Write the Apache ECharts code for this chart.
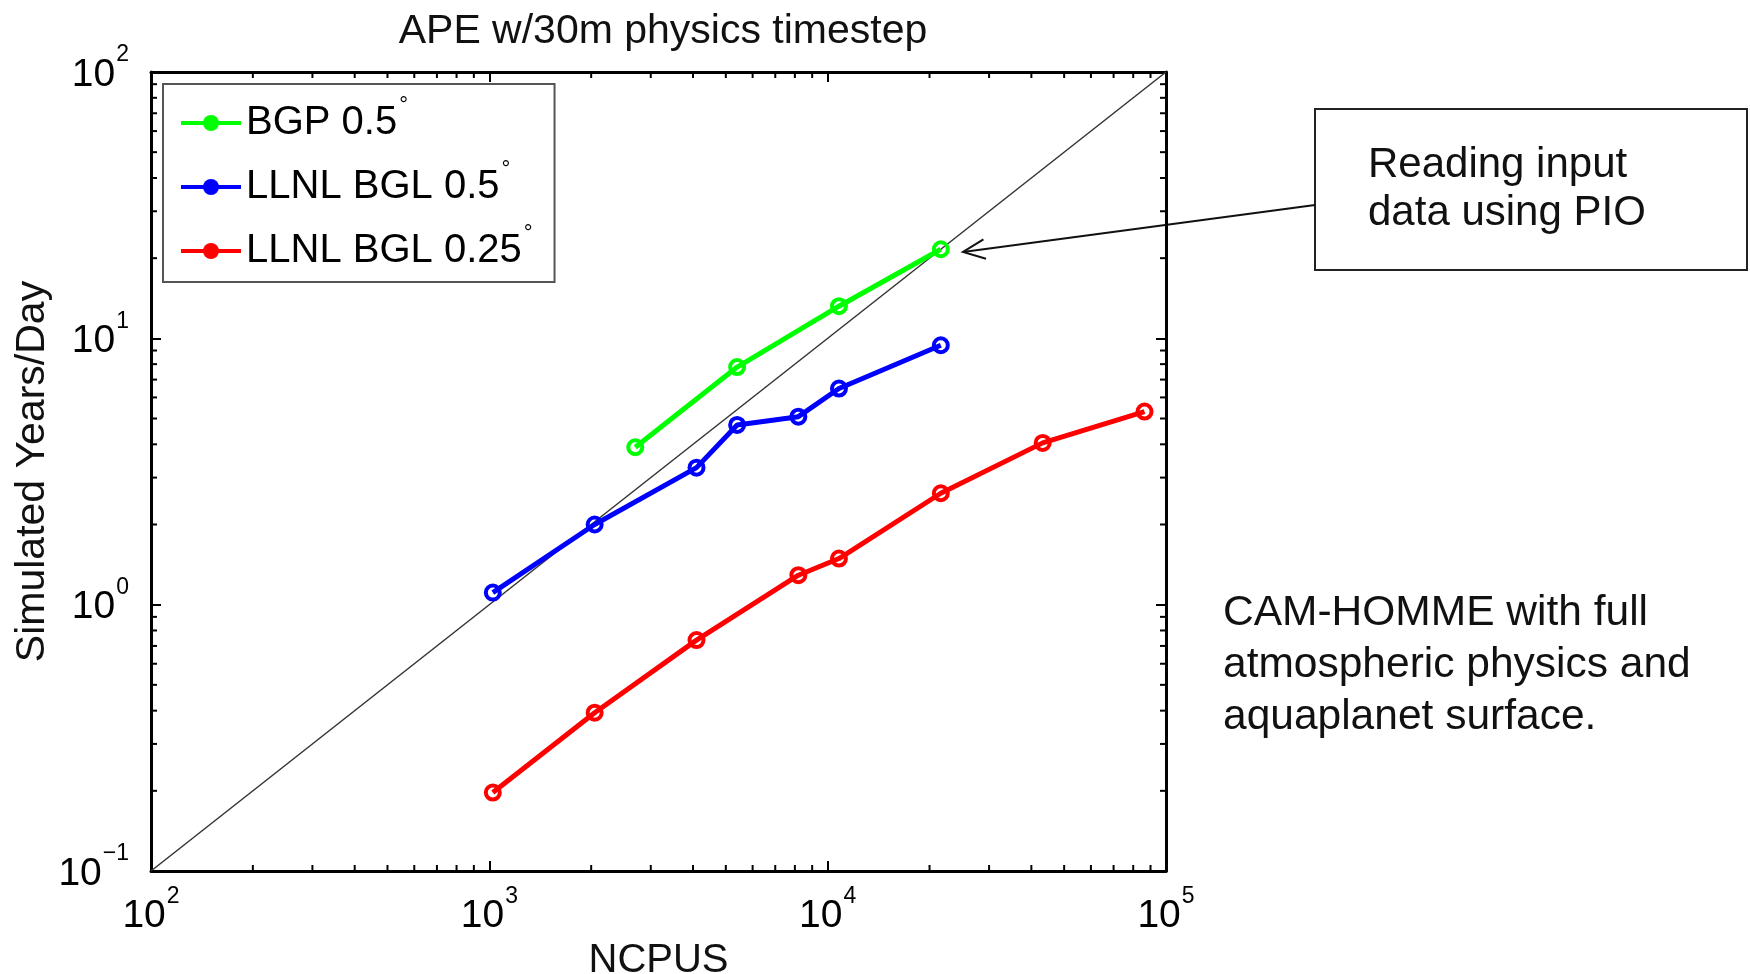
<!DOCTYPE html>
<html>
<head>
<meta charset="utf-8">
<title>APE w/30m physics timestep</title>
<script src="https://cdn.jsdelivr.net/npm/echarts@6/dist/echarts.min.js"></script>
<style>
  html, body { margin: 0; padding: 0; background: #fff; }
  #chart { width: 1750px; height: 974px; }
</style>
</head>
<body>
<div id="chart"></div>
<script>
// data
const bgpNcpus = [2700, 5400, 10800, 21600];
const bgpYears = [3.9, 7.8, 13.2, 21.6];

const bgl05Ncpus = [1024, 2048, 4096, 5400, 8192, 10800, 21600];
const bgl05Years = [1.11, 2.0, 3.27, 4.73, 5.08, 6.48, 9.42];

const bgl025Ncpus = [1024, 2048, 4096, 8192, 10800, 21600, 43200, 86400];
const bgl025Years = [0.197, 0.393, 0.736, 1.29, 1.49, 2.62, 4.05, 5.31];

// ideal scaling reference line
const idealNcpus = [100, 100000];
const idealYears = [0.1, 100];

// axis ranges and minor tick positions (2..9 within each decade)
const xRange = [100, 100000];
const yRange = [0.1, 100];
const minorMultipliers = [2, 3, 4, 5, 6, 7, 8, 9];
const xDecades = [100, 1000, 10000];
const yDecades = [0.1, 1, 10];

const FONT = '"Liberation Sans", Arial, Helvetica, sans-serif';

const pairs = (xs, ys) => xs.map((x, i) => [x, ys[i]]);

const minorValues = (decades) => {
    const out = [];
    decades.forEach(d => minorMultipliers.forEach(m => out.push(d * m)));
    return out;
};

const sup = (v) => {
    const e = Math.round(Math.log10(v));
    return '{b|10}{s|' + (e < 0 ? '\u2212' + (-e) : e) + '}';
};

const labelRich = {
    b: { fontSize: 39, lineHeight: 42, color: '#000', fontFamily: FONT, padding: [6, 0, 0, 0] },
    s: { fontSize: 23, color: '#000', fontFamily: FONT, padding: [0, 0, 34, 1] }
};

const axisCommon = {
    type: 'log',
    logBase: 10,
    axisLine: { show: true, onZero: false, lineStyle: { color: '#000', width: 3 } },
    axisTick: { show: true, inside: true, length: 10, lineStyle: { color: '#000', width: 2 } },
    minorTick: { show: false },
    splitLine: { show: false }
};

const lineSeries = (name, data, color) => ({
    name: name,
    type: 'line',
    data: data,
    symbol: 'circle',
    symbolSize: 14,
    lineStyle: { color: color, width: 5 },
    itemStyle: { color: 'rgba(255,255,255,0)', borderColor: color, borderWidth: 4 },
    z: 3
});

const chart = echarts.init(document.getElementById('chart'));

const option = {
    animation: false,
    textStyle: { fontFamily: FONT },
    title: {
        text: 'APE w/30m physics timestep',
        left: 658,
        top: 6,
        textAlign: 'center',
        textStyle: { fontSize: 41, fontWeight: 'normal', color: '#111', fontFamily: FONT }
    },
    grid: { left: 151, right: 584, top: 72, bottom: 103, outerBoundsMode: 'none' },
    legend: {
        orient: 'vertical',
        left: 163,
        top: 84,
        padding: [11, 22, 11, 16],
        itemGap: 16,
        itemWidth: 60,
        itemHeight: 20,
        backgroundColor: '#fff',
        borderColor: '#555',
        borderWidth: 2,
        lineStyle: { width: 4 },
        data: [
            { name: 'BGP 0.5°', itemStyle: { color: '#00ff00', borderWidth: 0 } },
            { name: 'LLNL BGL 0.5°', itemStyle: { color: '#0000ff', borderWidth: 0 } },
            { name: 'LLNL BGL 0.25°', itemStyle: { color: '#ff0000', borderWidth: 0 } }
        ],
        formatter: (n) => '{t|' + n.slice(0, -1) + '}{d|°}',
        textStyle: {
            rich: {
                t: { fontSize: 40, lineHeight: 46, color: '#000', fontFamily: FONT },
                d: { fontSize: 22, color: '#000', fontFamily: FONT, padding: [0, 0, 34, 2] }
            }
        }
    },
    xAxis: [
        Object.assign({}, axisCommon, {
            position: 'bottom',
            min: xRange[0], max: xRange[1],
            name: 'NCPUS',
            nameLocation: 'middle',
            nameGap: 70,
            nameTextStyle: { fontSize: 40, color: '#111', fontFamily: FONT },
            axisLabel: { margin: 14, formatter: sup, rich: labelRich }
        }),
        Object.assign({}, axisCommon, {
            position: 'top',
            min: xRange[0], max: xRange[1],
            axisLabel: { show: false }
        })
    ],
    yAxis: [
        Object.assign({}, axisCommon, {
            position: 'left',
            min: yRange[0], max: yRange[1],
            name: 'Simulated Years/Day',
            nameLocation: 'middle',
            nameMoveOverlap: false,
            nameGap: 98,
            nameTextStyle: { fontSize: 41, color: '#111', fontFamily: FONT },
            axisLabel: { margin: 22, formatter: sup, rich: labelRich }
        }),
        Object.assign({}, axisCommon, {
            position: 'right',
            min: yRange[0], max: yRange[1],
            axisLabel: { show: false }
        })
    ],
    series: [
        {
            name: 'ideal',
            type: 'line',
            data: pairs(idealNcpus, idealYears),
            symbol: 'none',
            silent: true,
            lineStyle: { color: '#333', width: 1.5 },
            z: 2
        },
        lineSeries('BGP 0.5°', pairs(bgpNcpus, bgpYears), '#00ff00'),
        lineSeries('LLNL BGL 0.5°', pairs(bgl05Ncpus, bgl05Years), '#0000ff'),
        lineSeries('LLNL BGL 0.25°', pairs(bgl025Ncpus, bgl025Years), '#ff0000'),
        {
            // minor ticks on bottom and top edges
            type: 'custom',
            silent: true,
            data: minorValues(xDecades).map(v => [v, 1]),
            renderItem: (params, api) => {
                const v = api.value(0);
                const b = api.coord([v, yRange[0]]);
                const t = api.coord([v, yRange[1]]);
                const st = { stroke: '#000', lineWidth: 2 };
                return {
                    type: 'group',
                    children: [
                        { type: 'line', shape: { x1: b[0], y1: b[1], x2: b[0], y2: b[1] - 6 }, style: st },
                        { type: 'line', shape: { x1: t[0], y1: t[1], x2: t[0], y2: t[1] + 6 }, style: st }
                    ]
                };
            },
            z: 4
        },
        {
            // minor ticks on left and right edges
            type: 'custom',
            silent: true,
            data: minorValues(yDecades).map(v => [1000, v]),
            renderItem: (params, api) => {
                const v = api.value(1);
                const l = api.coord([xRange[0], v]);
                const r = api.coord([xRange[1], v]);
                const st = { stroke: '#000', lineWidth: 2 };
                return {
                    type: 'group',
                    children: [
                        { type: 'line', shape: { x1: l[0], y1: l[1], x2: l[0] + 6, y2: l[1] }, style: st },
                        { type: 'line', shape: { x1: r[0], y1: r[1], x2: r[0] - 6, y2: r[1] }, style: st }
                    ]
                };
            },
            z: 4
        }
    ]
};

// annotation arrow pointing at the last BGP point
const tip = [963, 252];
const tail = [1315, 205];
const ang = Math.atan2(tail[1] - tip[1], tail[0] - tip[0]);
const headLen = 24, headAng = 0.42;
const head = [
    [tip[0] + headLen * Math.cos(ang + headAng), tip[1] + headLen * Math.sin(ang + headAng)],
    tip,
    [tip[0] + headLen * Math.cos(ang - headAng), tip[1] + headLen * Math.sin(ang - headAng)]
];

option.graphic = [
    {
        type: 'rect',
        shape: { x: 1315, y: 109, width: 432, height: 161 },
        style: { fill: '#fff', stroke: '#222', lineWidth: 2 }
    },
    {
        type: 'text',
        x: 1368, y: 141,
        style: {
            text: 'Reading input\ndata using PIO',
            font: '42px ' + FONT,
            lineHeight: 48,
            fill: '#111',
            textVerticalAlign: 'top'
        }
    },
    {
        type: 'line',
        shape: { x1: tail[0], y1: tail[1], x2: tip[0], y2: tip[1] },
        style: { stroke: '#111', lineWidth: 2 }
    },
    {
        type: 'polyline',
        shape: { points: head },
        style: { stroke: '#111', lineWidth: 2, fill: null }
    },
    {
        type: 'text',
        x: 1223, y: 587,
        style: {
            text: 'CAM-HOMME with full\natmospheric physics and\naquaplanet surface.',
            font: '42.5px ' + FONT,
            lineHeight: 52,
            fill: '#111',
            textVerticalAlign: 'top'
        }
    }
];

chart.setOption(option);
</script>
</body>
</html>
